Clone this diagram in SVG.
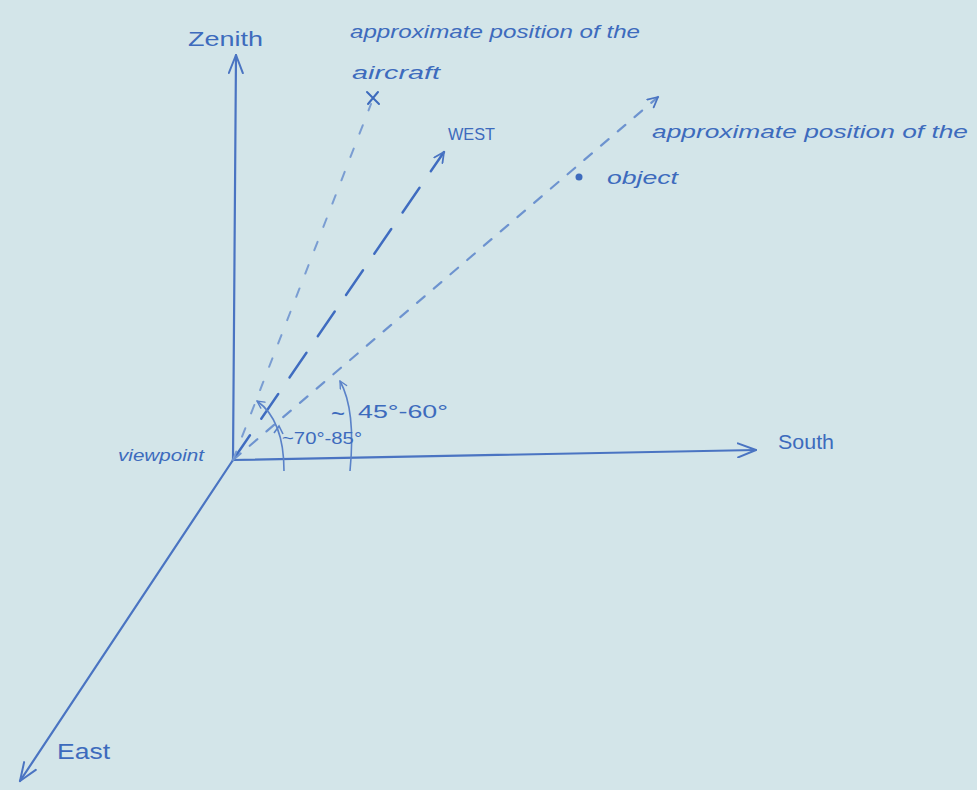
<svg xmlns="http://www.w3.org/2000/svg" width="977" height="790" viewBox="0 0 977 790">
  <defs>
    <marker id="open" viewBox="0 0 12 12" refX="11" refY="6" markerWidth="12" markerHeight="12" markerUnits="userSpaceOnUse" orient="auto">
      <path d="M1,1 L11,6 L1,11" fill="none" stroke="#4a74c2" stroke-width="1.8" stroke-linecap="round" stroke-linejoin="round"/>
    </marker>
    <marker id="openBig" viewBox="0 0 20 16" refX="19" refY="8" markerWidth="20" markerHeight="16" markerUnits="userSpaceOnUse" orient="auto">
      <path d="M1,1 L19,8 L1,15" fill="none" stroke="#4a74c2" stroke-width="2" stroke-linecap="round" stroke-linejoin="round"/>
    </marker>
    <marker id="small" viewBox="0 0 10 10" refX="9" refY="5" markerWidth="9" markerHeight="9" markerUnits="userSpaceOnUse" orient="auto">
      <path d="M1,1 L9,5 L1,9" fill="none" stroke="#5a82c8" stroke-width="1.5" stroke-linecap="round"/>
    </marker>
  </defs>
  <style>
    .axis { stroke: #4a74c2; stroke-width: 2.2; fill: none; stroke-linecap: round; }
    .west { stroke: #3f6cc0; stroke-width: 2.4; fill: none; stroke-dasharray: 30 20; stroke-linecap: round; }
    .aircraft { stroke: #7a9dd2; stroke-width: 2; fill: none; stroke-dasharray: 9 16; stroke-linecap: round; }
    .object { stroke: #6d93cf; stroke-width: 2.2; fill: none; stroke-dasharray: 10 12; stroke-linecap: round; }
    .arc { stroke: #5a82c8; stroke-width: 1.6; fill: none; }
    .hand { font-family: "Liberation Sans", "DejaVu Sans", sans-serif; fill: #3d6bbd; }
    .cursive { font-family: "Liberation Sans", "DejaVu Sans", sans-serif; font-style: italic; fill: #3d6bbd; }
  </style>
  <rect x="0" y="0" width="977" height="790" fill="#d3e5e9"/>

  <g id="connectors">
    <line id="zenith-axis" class="axis" x1="233" y1="460" x2="236" y2="55" marker-end="url(#openBig)"/>
    <line id="south-axis" class="axis" x1="233" y1="460" x2="756" y2="450" marker-end="url(#openBig)"/>
    <line id="east-axis" class="axis" x1="233" y1="460" x2="20" y2="781" marker-end="url(#openBig)"/>
    <line id="west-line" class="west" x1="233" y1="460" x2="444" y2="152" marker-end="url(#open)"/>
    <line id="aircraft-line" class="aircraft" x1="233" y1="460" x2="371" y2="104"/>
    <line id="object-line" class="object" x1="233" y1="460" x2="658" y2="97" marker-end="url(#open)"/>
    <path id="arc-aircraft" class="arc" d="M284,471 Q284,420 257,401" marker-end="url(#small)"/>
    <path id="arc-aircraft-tick" class="arc" d="M274,433 L279,426 L283,434"/>
    <path id="arc-object" class="arc" d="M350,471 Q356,410 340,381" marker-end="url(#small)"/>
  </g>

  <g id="zenith">
    <text class="hand" x="188" y="46" font-size="20" textLength="75" lengthAdjust="spacingAndGlyphs">Zenith</text>
  </g>
  <g id="south">
    <text class="hand" x="778" y="449" font-size="20" textLength="56" lengthAdjust="spacingAndGlyphs">South</text>
  </g>
  <g id="east">
    <text class="hand" x="57" y="759" font-size="22" textLength="53" lengthAdjust="spacingAndGlyphs">East</text>
  </g>
  <g id="viewpoint">
    <text class="cursive" x="118" y="461" font-size="17" textLength="86" lengthAdjust="spacingAndGlyphs">viewpoint</text>
  </g>
  <g id="west">
    <text class="hand" x="448" y="140" font-size="16" textLength="47" lengthAdjust="spacingAndGlyphs">WEST</text>
  </g>
  <g id="aircraft">
    <text class="cursive" x="350" y="38" font-size="19" textLength="290" lengthAdjust="spacingAndGlyphs">approximate position of the</text>
    <text class="cursive" x="352" y="79" font-size="19" textLength="88" lengthAdjust="spacingAndGlyphs">aircraft</text>
    <path d="M367,92 L379,104 M378,92 L368,104" stroke="#3d6bbd" stroke-width="2" fill="none" stroke-linecap="round"/>
  </g>
  <g id="object">
    <text class="cursive" x="652" y="138" font-size="19" textLength="316" lengthAdjust="spacingAndGlyphs">approximate position of the</text>
    <text class="cursive" x="607" y="184" font-size="19" textLength="71" lengthAdjust="spacingAndGlyphs">object</text>
    <circle cx="579" cy="177" r="3.5" fill="#3d6bbd"/>
  </g>
  <g id="angle-aircraft">
    <text class="hand" x="282" y="444" font-size="16" textLength="80" lengthAdjust="spacingAndGlyphs">~70°-85°</text>
  </g>
  <g id="angle-object">
    <text class="hand" x="331" y="422" font-size="24">~</text>
    <text class="hand" x="358" y="418" font-size="18" textLength="90" lengthAdjust="spacingAndGlyphs">45°-60°</text>
  </g>
</svg>
